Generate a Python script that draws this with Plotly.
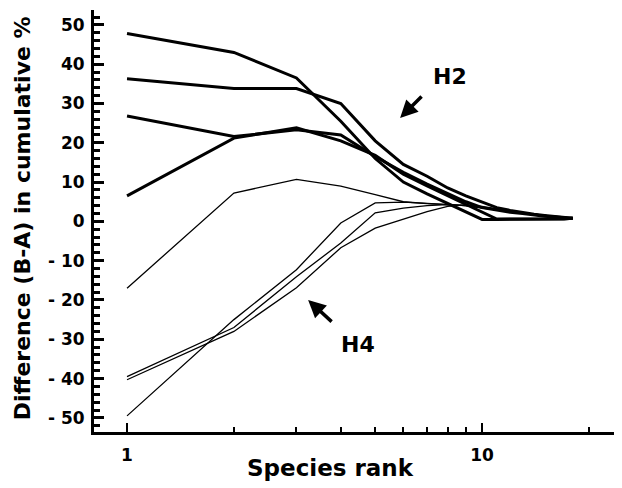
import plotly.graph_objects as go

# species ranks 1..18
ranks = list(range(1, 19))

# H2 samples (thick lines)
h2_a = [47.8, 43.0, 36.5, 25.5, 16.0, 10.0, 7.0, 4.5, 2.5, 0.5, 0.5, 0.5, 0.5, 0.5, 0.5, 0.5, 0.6, 0.8]
h2_b = [36.3, 33.8, 33.8, 30.0, 20.5, 14.5, 11.5, 8.5, 6.5, 5.0, 3.5, 2.8, 2.2, 1.8, 1.5, 1.2, 1.0, 0.8]
h2_c = [26.8, 21.6, 23.3, 22.0, 16.5, 12.5, 9.5, 7.0, 5.0, 3.5, 2.8, 2.3, 2.0, 1.6, 1.3, 1.1, 0.9, 0.8]
h2_d = [6.5, 21.2, 23.8, 20.5, 16.8, 12.0, 9.0, 6.5, 4.5, 2.5, 0.6, 0.6, 0.6, 0.6, 0.6, 0.7, 0.7, 0.8]

# H4 samples (thin lines)
h4_e = [-17.0, 7.2, 10.7, 9.0, 6.8, 5.0, 4.5, 4.2, 4.0, 3.5, 3.0, 2.5, 2.0, 1.8, 1.5, 1.2, 1.0, 0.8]
h4_f = [-39.5, -27.0, -14.1, -5.5, 2.2, 3.4, 4.0, 4.3, 4.0, 3.6, 3.1, 2.6, 2.1, 1.8, 1.5, 1.2, 1.0, 0.8]
h4_g = [-40.3, -28.0, -16.9, -6.7, -1.7, 0.5, 2.5, 3.8, 4.2, 3.8, 3.2, 2.7, 2.2, 1.9, 1.5, 1.2, 1.0, 0.8]
h4_h = [-49.5, -25.0, -12.3, -0.4, 4.7, 4.9, 4.6, 4.3, 4.0, 3.4, 2.9, 2.4, 2.0, 1.7, 1.4, 1.1, 0.9, 0.8]

thick = [h2_a, h2_b, h2_c, h2_d]
thin = [h4_e, h4_f, h4_g, h4_h]

fig = go.Figure()
for ys in thick:
    fig.add_trace(go.Scatter(x=ranks, y=ys, mode="lines",
                             line=dict(color="black", width=3)))
for ys in thin:
    fig.add_trace(go.Scatter(x=ranks, y=ys, mode="lines",
                             line=dict(color="black", width=1.3)))

font = dict(family="DejaVu Sans, Liberation Sans, sans-serif", color="black", weight="bold")

# page body has an 8px margin, so the figure is a bit smaller than the window
fig.update_layout(
    width=614, height=480,
    margin=dict(l=86, r=0, t=2, b=56),
    paper_bgcolor="white", plot_bgcolor="white",
    showlegend=False,
    font=font,
    xaxis=dict(
        type="log", range=[-0.093, 1.394],
        tickvals=[1, 10], ticktext=["1", "10"],
        ticks="inside", ticklen=9, tickwidth=2, tickcolor="black",
        minor=dict(tickvals=[2, 3, 4, 5, 6, 7, 8, 9, 20], ticks="inside",
                   ticklen=5, tickwidth=2, tickcolor="black"),
        showline=True, linecolor="black", linewidth=3,
        showgrid=False, zeroline=False, automargin=False,
        tickfont=dict(size=17, **font), ticklabelstandoff=6,
    ),
    yaxis=dict(
        range=[-53.6, 53.8],
        tickvals=[-50, -40, -30, -20, -10, 0, 10, 20, 30, 40, 50],
        ticktext=["- 50", "- 40", "- 30", "- 20", "- 10", "0", "10", "20", "30", "40", "50"],
        ticks="inside", ticklen=10, tickwidth=2.5, tickcolor="black",
        minor=dict(dtick=2, ticks="inside", ticklen=6, tickwidth=2.5, tickcolor="black"),
        showline=True, linecolor="black", linewidth=3,
        showgrid=False, zeroline=False, automargin=False,
        tickfont=dict(size=17, **font), ticklabelstandoff=3,
    ),
)

# axis titles
fig.add_annotation(x=0.447, y=-0.085, xref="paper", yref="paper", text="Species rank",
                   showarrow=False, xanchor="center", yanchor="middle",
                   font=dict(size=23, **font))
fig.add_annotation(x=-0.136, y=0.507, xref="paper", yref="paper",
                   text="Difference (B-A) in cumulative %", textangle=-90,
                   showarrow=False, xanchor="center", yanchor="middle",
                   font=dict(size=22, **font))

# labels and arrows
fig.add_annotation(x=0.910, y=36.8, text="H2", showarrow=False,
                   font=dict(size=22, **font))
fig.add_annotation(x=0.769, y=26.3, text="", showarrow=True, ax=23, ay=-23,
                   arrowhead=2, arrowsize=1, arrowwidth=3.5, arrowcolor="black")
fig.add_annotation(x=0.651, y=-31.4, text="H4", showarrow=False,
                   font=dict(size=22, **font))
fig.add_annotation(x=0.510, y=-20.0, text="", showarrow=True, ax=25, ay=23,
                   arrowhead=2, arrowsize=1, arrowwidth=3.5, arrowcolor="black")

fig.write_html("out.html")
